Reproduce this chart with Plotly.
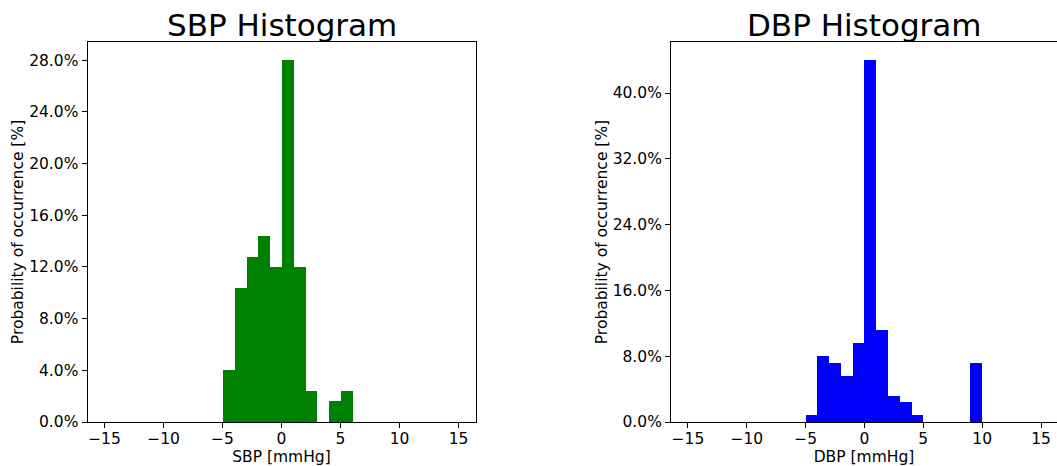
import plotly.graph_objects as go

# Histogram bins (left edges, width 1 mmHg) and their share of all samples in %
sbp_edges = [-5, -4, -3, -2, -1, 0, 1, 2, 3, 4, 5]
sbp_pct = [4.0, 10.4, 12.8, 14.4, 12.0, 28.0, 12.0, 2.4, 0.0, 1.6, 2.4]

dbp_edges = [-5, -4, -3, -2, -1, 0, 1, 2, 3, 4, 5, 6, 7, 8, 9]
dbp_pct = [0.8, 8.0, 7.2, 5.6, 9.6, 44.0, 11.2, 3.2, 2.4, 0.8, 0.0, 0.0, 0.0, 0.0, 7.2]

x_ticks = [-15, -10, -5, 0, 5, 10, 15]
x_ticktext = ["\u221215", "\u221210", "\u22125", "0", "5", "10", "15"]
sbp_yticks = [0, 4, 8, 12, 16, 20, 24, 28]
dbp_yticks = [0, 8, 16, 24, 32, 40]

W, H = 1057, 466
FONT = "DejaVu Sans"


def px_x(p):
    return p / W


def px_y(p):
    return 1 - p / H


fig = go.Figure()
fig.add_trace(go.Bar(x=sbp_edges, y=sbp_pct, width=1, offset=0,
                     marker=dict(color="green", line=dict(width=0)),
                     xaxis="x", yaxis="y"))
fig.add_trace(go.Bar(x=dbp_edges, y=dbp_pct, width=1, offset=0,
                     marker=dict(color="blue", line=dict(width=0)),
                     xaxis="x2", yaxis="y2"))

tick_font = dict(family=FONT, size=15.5, color="black")
common_x = dict(range=[-16.44, 16.44], tickvals=x_ticks, ticktext=x_ticktext,
                ticks="outside", ticklen=5, tickwidth=1, tickcolor="black",
                ticklabelstandoff=-3,
                showgrid=False, zeroline=False, showline=True, linecolor="black",
                linewidth=1, tickfont=tick_font, automargin=False)
common_y = dict(ticks="outside", ticklen=5, tickwidth=1, tickcolor="black",
                showgrid=False, zeroline=False, showline=True, linecolor="black",
                linewidth=1, tickfont=tick_font, automargin=False)

ydom = [px_y(422), px_y(42)]
label_font = dict(family=FONT, size=15.5, color="black")

fig.update_layout(
    width=W, height=H,
    margin=dict(l=0, r=0, t=0, b=0),
    paper_bgcolor="white", plot_bgcolor="white",
    showlegend=False, bargap=0,
    font=dict(family=FONT, color="black"),
    xaxis=dict(domain=[px_x(87.5), px_x(475.5)], anchor="y", mirror=True,
               title=dict(text="SBP [mmHg]", font=label_font, standoff=4),
               **common_x),
    yaxis=dict(domain=ydom, anchor="x", range=[0, 29.4], mirror=True,
               tickvals=sbp_yticks, ticktext=[f"{v:.1f}%" for v in sbp_yticks],
               title=dict(text="Probability of occurrence [%]", font=label_font, standoff=1),
               **common_y),
    xaxis2=dict(domain=[px_x(671), 1.0], anchor="y2", mirror=True,
                title=dict(text="DBP [mmHg]", font=label_font, standoff=4),
                **{**common_x, "range": [-16.44, 16.36]}),
    yaxis2=dict(domain=ydom, anchor="x2", range=[0, 46.2], mirror=False,
                tickvals=dbp_yticks, ticktext=[f"{v:.1f}%" for v in dbp_yticks],
                title=dict(text="Probability of occurrence [%]", font=label_font, standoff=1),
                **common_y),
    annotations=[
        dict(text="SBP Histogram", x=px_x(281.5), y=px_y(25), xref="paper", yref="paper",
             xanchor="center", yanchor="middle", showarrow=False,
             font=dict(family=FONT, size=31, color="black")),
        dict(text="DBP Histogram", x=px_x(864), y=px_y(25), xref="paper", yref="paper",
             xanchor="center", yanchor="middle", showarrow=False,
             font=dict(family=FONT, size=31, color="black")),
    ],
)

fig.write_html("out.html")
